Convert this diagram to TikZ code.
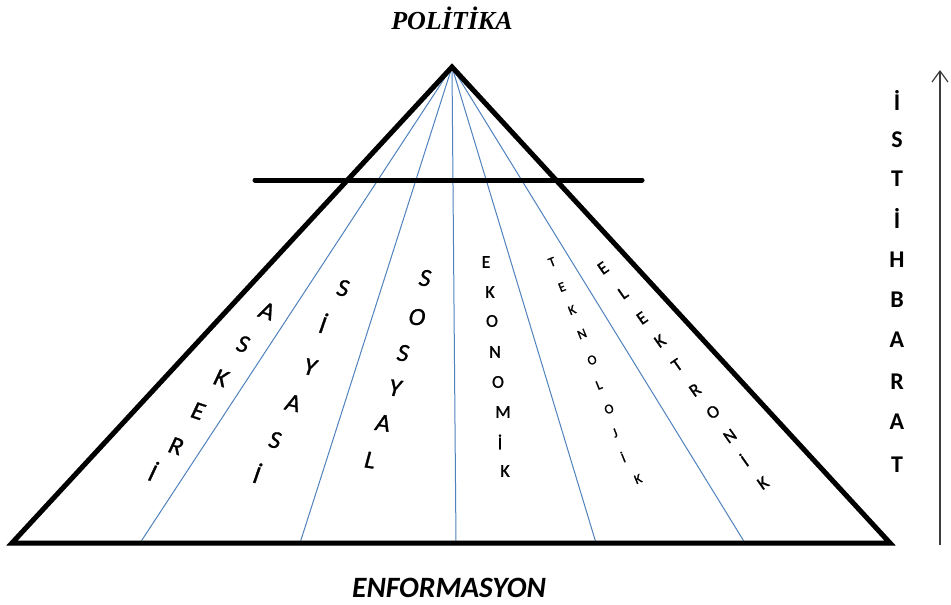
\documentclass[tikz,border=0pt]{standalone}
\usepackage{fontspec}
\setmainfont{Carlito}
\newfontfamily\medfont[FakeBold=1.2]{Carlito}
\newfontfamily\titlefont{Liberation Serif}
\usetikzlibrary{arrows.meta}
\definecolor{lineblue}{RGB}{79,129,189}
\definecolor{arrowgray}{RGB}{60,60,60}
\begin{document}
\begin{tikzpicture}[x=1pt,y=-1pt,
  thickline/.style={line width=5pt, line join=miter, line cap=round},
  shadowline/.style={line width=5pt, draw=gray!45, opacity=0.6, line cap=round},
  blueline/.style={draw=lineblue, line width=1pt},
  ltr/.style={inner sep=0pt, text=black},
  bigit/.style={ltr, font=\medfont\fontsize{25}{28}\selectfont\itshape},
  eko/.style={ltr, font=\medfont\fontsize{18}{20}\selectfont},
  tek/.style={ltr, font=\medfont\fontsize{13.5}{15}\selectfont, rotate=22},
  ele/.style={ltr, font=\medfont\fontsize{18}{20}\selectfont, rotate=35},
  ist/.style={ltr, font=\fontsize{24}{26}\selectfont\bfseries},
  titletext/.style={inner sep=0pt, font=\titlefont\fontsize{26}{28}\selectfont\bfseries\itshape},
  basetext/.style={inner sep=0pt, font=\fontsize{29.5}{31}\selectfont\bfseries\itshape}
]
\useasboundingbox (0,0) rectangle (951,605);
% key points
\coordinate (apex) at (452,67);
\coordinate (bl) at (12,543);
\coordinate (br) at (890,543);
\coordinate (hl) at (255,180);
\coordinate (hr) at (642,180);
\coordinate (b1) at (140,543);
\coordinate (b2) at (300,543);
\coordinate (b3) at (456,543);
\coordinate (b4) at (596,543);
\coordinate (b5) at (745,543);
% blue sector lines
\foreach \p in {b1,b2,b3,b4,b5}
  \draw[blueline] (apex) -- (\p);
% shadows
\draw[shadowline, shift={(1,2.5)}] (apex) -- (bl) -- (br) -- cycle;
\draw[shadowline, shift={(1,2.5)}] (hl) -- (hr);
% triangle and cut line
\draw[thickline] (apex) -- (bl) -- (br) -- cycle;
\draw[thickline] (hl) -- (hr);
% titles
\node[titletext] (pol) at (452,18) {POLİTİKA};
\node[basetext] (enf) at (449,588) {ENFORMASYON};
% sector letters
\foreach \c/\x/\y [count=\i] in {A/267/311,S/243/344,K/221/378,E/198/411,R/176/446,İ/153/471}
  \node[bigit, rotate=-18] (ask\i) at (\x,\y) {\c};
\foreach \c/\x/\y [count=\i] in {S/343/288,İ/323/323,Y/310/367,A/293/403,S/275/440,İ/257/473}
  \node[bigit, rotate=-12] (siy\i) at (\x,\y) {\c};
\foreach \c/\x/\y [count=\i] in {S/425/278,O/417/317,S/403/353,Y/395/388,A/383/423,L/370/460}
  \node[bigit, rotate=-8] (sos\i) at (\x,\y) {\c};
\foreach \c/\x/\y [count=\i] in {E/486/262,K/490/292,O/492/321,N/495/352,O/498/382,M/503/412,İ/500/442,K/505/471}
  \node[eko] (eko\i) at (\x,\y) {\c};
\foreach \c/\x/\y [count=\i] in {T/552/262,E/562/287,K/572/310,N/582/334,O/592/360,L/599/385,O/609/409,J/615/433,İ/623/457,K/638/479}
  \node[tek] (tek\i) at (\x,\y) {\c};
\foreach \c/\x/\y [count=\i] in {E/603/268,L/623/293,E/642/318,K/660/341,T/677/365,R/695/390,O/713/412,N/730/436,İ/744/460,K/763/483}
  \node[ele] (ele\i) at (\x,\y) {\c};
% vertical word and arrow
\foreach \c/\y [count=\i] in {İ/100,S/140,T/179,İ/218,H/260,B/300,A/340,R/382,A/422,T/465}
  \node[ist] (ist\i) at (897,\y) {\c};
\coordinate (arrbot) at (940,545);
\coordinate (arrtop) at (940,70);
\draw[draw=arrowgray, line width=1.2pt, -{Straight Barb[length=11pt,width=16pt,line width=1.2pt]}] (arrbot) -- (arrtop);
\end{tikzpicture}
\end{document}
